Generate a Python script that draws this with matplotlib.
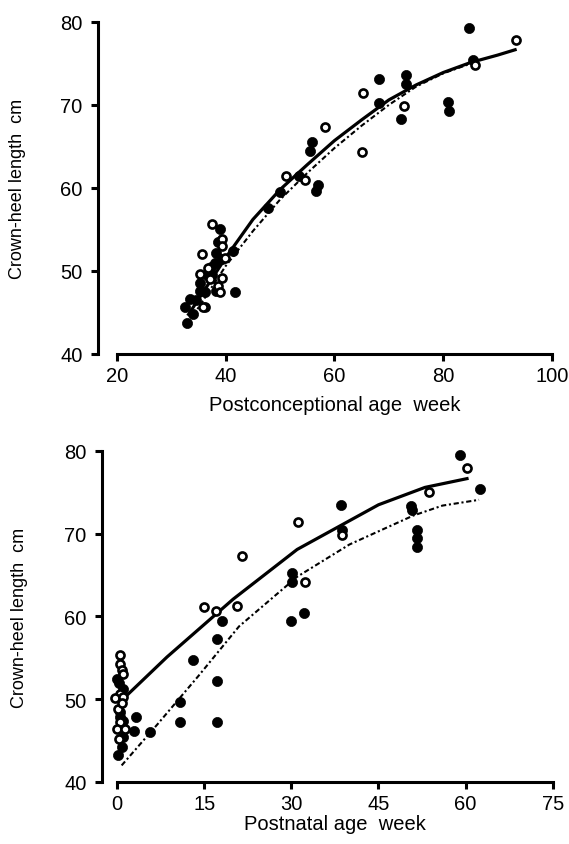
#!/usr/bin/env python3
"""
Crown-heel length vs age (postconceptional / postnatal), two panels.
"""

import numpy as np
import matplotlib
matplotlib.use("Agg")
import matplotlib.pyplot as plt

plt.rcParams['font.family'] = ['Liberation Sans Narrow', 'Liberation Sans', 'DejaVu Sans']

# ---- top panel: postconceptional age ----
pca_filled_x = [32.8, 34.0, 32.5, 33.4, 34.5, 35.3, 36.2, 35.3, 36.5, 37.2, 38.3, 38.3, 38.0,
                39.3, 38.9, 38.5, 37.5, 41.7, 41.4, 47.8, 50.0, 53.5, 55.9, 55.5, 56.6, 57.0,
                68.1, 68.2, 72.2, 73.1, 73.1, 80.9, 81.1, 84.8, 85.5]
pca_filled_y = [43.7, 44.8, 45.6, 46.6, 46.5, 47.6, 47.4, 48.6, 49.5, 50.5, 47.6, 52.2, 51.0,
                51.4, 55.0, 53.5, 49.5, 47.4, 52.4, 57.6, 59.5, 61.4, 65.5, 64.5, 59.6, 60.4,
                73.1, 70.2, 68.3, 73.6, 72.5, 70.4, 69.3, 79.3, 75.4]
pca_open_x = [37.5, 39.3, 39.3, 35.6, 39.9, 36.8, 35.3, 39.3, 37.1, 38.6, 38.9, 36.2, 35.9,
              51.0, 54.6, 58.3, 65.0, 65.2, 72.7, 85.8, 93.4]
pca_open_y = [55.6, 53.8, 53.0, 52.0, 51.6, 50.4, 49.6, 49.2, 49.0, 48.2, 47.4, 45.6, 45.6,
              61.4, 61.0, 67.3, 64.3, 71.4, 69.9, 74.8, 77.8]
pca_solid_x = [33, 36, 40, 45, 50, 55, 60, 65, 70, 75, 80, 85, 90, 93.5]
pca_solid_y = [44.6, 47.6, 51.6, 56.2, 59.8, 62.8, 65.7, 68.2, 70.6, 72.4, 73.9, 75.1, 76.0, 76.7]
pca_dash_x = [34, 40, 45, 50, 55, 60, 65, 70, 75, 80, 86]
pca_dash_y = [44.6, 50.6, 54.8, 58.6, 61.8, 64.8, 67.5, 70.0, 72.2, 73.8, 75.2]

# ---- bottom panel: postnatal age ----
pna_filled_x = [0.0, 0.4, 1.1, 0.5, 1.1, 1.1, 0.8, 0.2, 0.6, 3.3, 3.0, 5.6, 10.9, 10.9, 13.0,
                17.2, 17.2, 17.2, 18.0, 29.9, 30.1, 30.1, 32.2, 38.6, 38.7, 50.6, 50.8, 51.7,
                51.7, 51.7, 59.0, 62.5]
pna_filled_y = [52.4, 52.0, 51.2, 47.8, 47.4, 45.4, 44.2, 43.2, 48.4, 47.8, 46.2, 46.1, 49.7,
                47.2, 54.7, 47.2, 52.2, 57.3, 59.4, 59.4, 64.2, 65.3, 60.4, 73.5, 70.5, 73.4,
                72.9, 70.5, 69.5, 68.4, 79.5, 75.4]
pna_open_x = [0.6, 0.5, 0.8, 1.0, 0.6, -0.3, 1.1, 0.2, 0.6, 0.0, 1.4, 0.3, 0.8, 14.9, 17.1,
              20.6, 21.5, 31.2, 32.4, 38.7, 53.7, 60.2]
pna_open_y = [55.3, 54.2, 53.5, 53.0, 50.6, 50.1, 50.3, 48.8, 47.2, 46.4, 46.4, 45.2, 49.5,
              61.1, 60.7, 61.3, 67.3, 71.4, 64.2, 69.8, 75.1, 77.9]
pna_solid_x = [1.3, 8.6, 20, 31, 45, 53, 60.5]
pna_solid_y = [50.2, 55.1, 62.1, 68.1, 73.5, 75.6, 76.7]
pna_dash_x = [0.8, 7, 14, 21, 31, 40, 51, 56, 62.3]
pna_dash_y = [42.0, 47.0, 52.8, 58.8, 64.8, 68.7, 72.2, 73.4, 74.1]

pca_ticks = [20, 40, 60, 80, 100]
pna_ticks = [0, 15, 30, 45, 60, 75]
y_ticks = [40, 50, 60, 70, 80]

YLABEL = 'Crown-heel length  cm'
DASH = (0, (2.5, 1.3, 1, 1.3))


def style_axis(ax, xticks, xlabel, left_offset, ylabel_x, xlabelpad):
    ax.set_xlim(xticks[0], xticks[-1])
    ax.set_ylim(40, 80)
    ax.set_xticks(xticks)
    ax.set_yticks(y_ticks)
    for s in ['top', 'right']:
        ax.spines[s].set_visible(False)
    for s in ['left', 'bottom']:
        ax.spines[s].set_linewidth(2.2)
    ax.spines['left'].set_position(('outward', left_offset))
    ax.tick_params(axis='both', direction='out', length=5, width=2.2, labelsize=14.5)
    ax.tick_params(axis='x', pad=4)
    ax.tick_params(axis='y', pad=6)
    ax.set_xlabel(xlabel, fontsize=14.5, labelpad=xlabelpad)
    ax.set_ylabel(YLABEL, fontsize=13)
    ax.yaxis.set_label_coords(ylabel_x, 0.5)


def draw_panel(ax, fx, fy, ox, oy, sx, sy, dx, dy):
    ax.plot(dx, dy, color='black', lw=1.5, linestyle=DASH, zorder=2)
    ax.plot(sx, sy, color='black', lw=2.3, zorder=3, solid_capstyle='butt')
    ax.plot(fx, fy, 'o', color='black', markersize=7.3, markeredgewidth=0.5,
            linestyle='none', zorder=4, clip_on=False)
    ax.plot(ox, oy, 'o', markerfacecolor='white', markeredgecolor='black',
            markersize=5.8, markeredgewidth=1.9, linestyle='none', zorder=5, clip_on=False)


def main():
    fig = plt.figure(figsize=(5.69, 8.45), dpi=100)

    ax1 = fig.add_axes([0.2056, 0.580, 0.7645, 0.3929])
    draw_panel(ax1, pca_filled_x, pca_filled_y, pca_open_x, pca_open_y,
               pca_solid_x, pca_solid_y, pca_dash_x, pca_dash_y)
    style_axis(ax1, pca_ticks, 'Postconceptional age  week', 13.7, -0.21, 7)

    ax2 = fig.add_axes([0.2056, 0.0734, 0.766, 0.3917])
    draw_panel(ax2, pna_filled_x, pna_filled_y, pna_open_x, pna_open_y,
               pna_solid_x, pna_solid_y, pna_dash_x, pna_dash_y)
    style_axis(ax2, pna_ticks, 'Postnatal age  week', 10.8, -0.204, 0.5)

    fig.savefig('out.png', dpi=100)


if __name__ == "__main__":
    main()
